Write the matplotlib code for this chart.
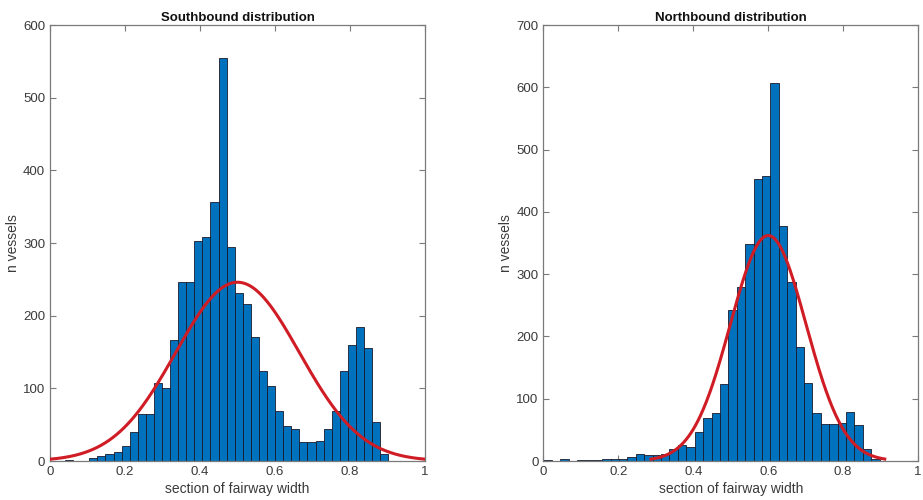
import numpy as np
import matplotlib
matplotlib.use("Agg")
import matplotlib.pyplot as plt
from matplotlib.ticker import FuncFormatter

plt.rcParams['font.family'] = ['Liberation Sans', 'DejaVu Sans']

# Southbound histogram (40 bins between min and max)
south_range = (0.04, 0.902)
south_counts = [1, 0, 0, 4.6, 7, 10, 13, 21, 40, 65, 64, 108, 101, 166, 246, 246,
                303, 308, 356, 555, 294, 231, 216, 170, 124, 103, 69, 48, 44, 26,
                26, 28, 44, 69, 124, 160, 185, 155, 54, 9]
south_fit = dict(mu=0.5, sigma=0.165, peak=246, xmin=0.0, xmax=1.0)

# Northbound histogram
north_range = (0.0, 0.8975)
north_counts = [1, 0, 4, 0, 2, 1, 1, 3, 3, 3, 7, 11, 10, 10, 11, 20, 26, 22, 46, 69,
                77, 124, 243, 280, 348, 452, 457, 607, 377, 288, 183, 126, 77, 60,
                60, 61, 79, 58, 20, 3]
north_fit = dict(mu=0.6, sigma=0.101, peak=362, xmin=0.287, xmax=0.911)

titles = ["Southbound distribution", "Northbound distribution"]
ylims = [600, 700]
xlabel = "section of fairway width"
ylabel = "n vessels"

fig = plt.figure(figsize=(9.23, 5.0), dpi=100)
positions = [[0.0542, 0.078, 0.4063, 0.872], [0.5887, 0.078, 0.4060, 0.872]]
axcol = '#7a7a7a'
txtcol = '#3a3a3a'

def fmt(v, pos):
    if abs(v) < 1e-9:
        return '0'
    if abs(v - 1) < 1e-9:
        return '1'
    return f'{v:.1f}'

for i, (rng, counts, fit) in enumerate([(south_range, south_counts, south_fit),
                                        (north_range, north_counts, north_fit)]):
    ax = fig.add_axes(positions[i])
    counts = np.array(counts, dtype=float)
    edges = np.linspace(rng[0], rng[1], len(counts) + 1)
    ax.bar(edges[:-1], counts, width=np.diff(edges), align='edge',
           color='#0072BD', edgecolor='#1a1a2a', linewidth=0.6, zorder=2)
    xs = np.linspace(fit['xmin'], fit['xmax'], 300)
    ys = fit['peak'] * np.exp(-(xs - fit['mu']) ** 2 / (2 * fit['sigma'] ** 2))
    ax.plot(xs, ys, color='#D01C24', linewidth=2.2, zorder=3)
    ax.set_xlim(0, 1)
    ax.set_ylim(0, ylims[i])
    ax.set_xticks(np.arange(0, 1.01, 0.2))
    ax.set_yticks(np.arange(0, ylims[i] + 1, 100))
    ax.xaxis.set_major_formatter(FuncFormatter(fmt))
    ax.tick_params(direction='in', top=True, right=True, length=4, width=0.8,
                   colors=axcol, labelcolor=txtcol, labelsize=9.5)
    for s in ax.spines.values():
        s.set_color(axcol)
        s.set_linewidth(0.9)
    ax.set_title(titles[i], fontsize=9.5, fontweight='bold', color='#111111', pad=3)
    ax.set_xlabel(xlabel, fontsize=10, color=txtcol, labelpad=3)
    ax.set_ylabel(ylabel, fontsize=10, color=txtcol, labelpad=2)

fig.savefig("out.png", dpi=100)
